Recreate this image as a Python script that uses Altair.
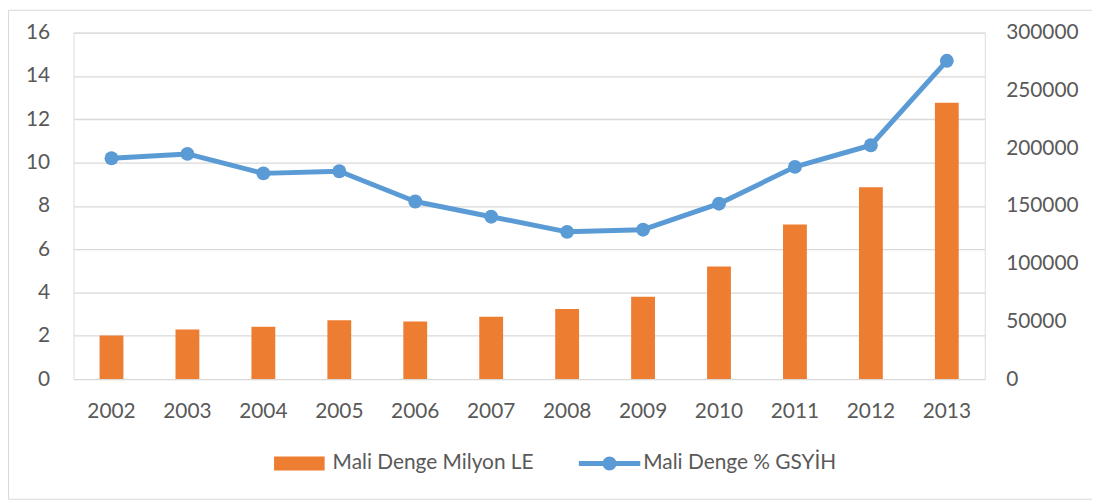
import altair as alt
import pandas as pd

years = ["2002", "2003", "2004", "2005", "2006", "2007", "2008", "2009", "2010", "2011", "2012", "2013"]
bar_values = [37800, 43000, 45300, 51000, 49900, 53900, 60700, 71300, 97400, 133800, 166200, 239200]
pct_values = [10.2, 10.4, 9.5, 9.6, 8.2, 7.5, 6.8, 6.9, 8.1, 9.8, 10.8, 14.7]
bar_name = "Mali Denge Milyon LE"
line_name = "Mali Denge % GSYİH"
left_ticks = [0, 2, 4, 6, 8, 10, 12, 14, 16]
right_ticks = [0, 50000, 100000, 150000, 200000, 250000, 300000]

ORANGE = "#ED7D31"
BLUE = "#5B9BD5"
GRID = "#D9D9D9"
TEXT = "#595959"
FONT = "Lato"
FS = 21

df = pd.DataFrame({
    "year": years,
    "bar": bar_values,
    "pct": pct_values,
    "s1": [bar_name] * len(years),
    "s2": [line_name] * len(years),
})

W, H = 918, 349

base = alt.Chart(df)

x_enc = alt.X(
    "year:O",
    sort=years,
    title=None,
    scale=alt.Scale(paddingInner=0, paddingOuter=0),
    axis=alt.Axis(labelAngle=0, ticks=False, tickSize=0, domain=False, grid=False,
                  labelPadding=22, labelFont=FONT, labelFontSize=FS, labelColor=TEXT),
)

rect_path = "M-1.96,-0.54H1.96V0.54H-1.96Z"
line_path = ("M-2.38,-0.19H-0.5V0.19H-2.38Z M0.5,-0.19H2.38V0.19H0.5Z "
             "M-0.54,0A0.54,0.54 0 1,1 0.54,0A0.54,0.54 0 1,1 -0.54,0Z")

bars = base.mark_bar(width=24, color=ORANGE).encode(
    x=x_enc,
    y=alt.Y("bar:Q", title=None,
            scale=alt.Scale(domain=[0, 300000], nice=False, zero=True),
            axis=alt.Axis(orient="right", values=right_ticks, format="d", grid=False,
                          ticks=False, tickSize=0, domain=False, labelPadding=21,
                          labelFont=FONT, labelFontSize=FS, labelColor=TEXT)),
    fill=alt.Fill("s1:N", scale=alt.Scale(domain=[bar_name], range=[ORANGE]),
                  legend=alt.Legend(title=None, orient="none", legendX=214.5, legendY=421,
                                    symbolType=rect_path, symbolSize=676, symbolStrokeWidth=0,
                                    symbolOpacity=1, labelOffset=20.5, padding=0,
                                    labelFont=FONT, labelFontSize=FS, labelColor=TEXT,
                                    labelLimit=400)),
)

line = base.mark_line(color=BLUE, strokeWidth=5, strokeCap="round", strokeJoin="round").encode(
    x=x_enc,
    y=alt.Y("pct:Q", title=None,
            scale=alt.Scale(domain=[0, 16], nice=False, zero=True),
            axis=alt.Axis(orient="left", values=left_ticks, grid=True, gridColor=GRID,
                          gridWidth=1.3, ticks=False, tickSize=0, domain=False,
                          labelPadding=24, labelFont=FONT, labelFontSize=FS,
                          labelColor=TEXT)),
)

pts = base.mark_circle(size=196, opacity=1).encode(
    x=x_enc,
    y=alt.Y("pct:Q"),
    fill=alt.Fill("s2:N", scale=alt.Scale(domain=[line_name], range=[BLUE]),
                  legend=alt.Legend(title=None, orient="none", legendX=527, legendY=421,
                                    symbolType=line_path, symbolSize=676, symbolStrokeWidth=0,
                                    symbolOpacity=1, labelOffset=21, padding=0,
                                    labelFont=FONT, labelFontSize=FS, labelColor=TEXT,
                                    labelLimit=400)),
)

border = alt.Chart(pd.DataFrame({"a": [0]})).mark_rect(
    fill=None, stroke=GRID, strokeWidth=1
).encode(
    x=alt.value(-65.5), x2=alt.value(1200), y=alt.value(-22.5), y2=alt.value(470)
)

line_layer = alt.layer(line, pts)

chart = alt.layer(border, bars, line_layer).resolve_scale(
    y="independent", fill="independent"
).resolve_legend(
    fill="independent"
).properties(
    width=W, height=H,
    autosize=alt.AutoSizeParams(type="none"),
    padding={"left": 66, "top": 23, "right": 108, "bottom": 123},
).configure_view(stroke=None).configure(background="white")

chart.save("out.html", embed_options={"renderer": "svg", "actions": False})
